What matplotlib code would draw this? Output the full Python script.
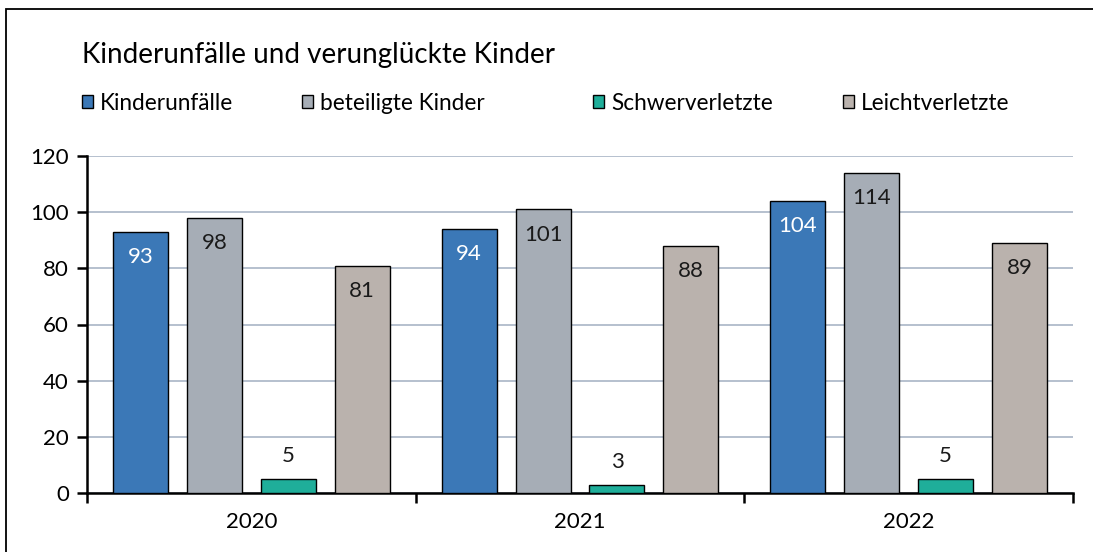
import matplotlib.pyplot as plt
import numpy as np
from matplotlib.patches import Rectangle

plt.rcParams['font.family'] = ['Lato', 'DejaVu Sans']

# data
years = ['2020', '2021', '2022']
series = ['Kinderunfälle', 'beteiligte Kinder', 'Schwerverletzte', 'Leichtverletzte']
kinderunfaelle = [93, 94, 104]
beteiligte = [98, 101, 114]
schwer = [5, 3, 5]
leicht = [81, 88, 89]
yticks = [0, 20, 40, 60, 80, 100, 120]

values = [kinderunfaelle, beteiligte, schwer, leicht]
colors = ['#3b78b7', '#a6adb6', '#1fae9a', '#bab2ad']
label_colors = ['white', '#1a1a1a', '#1a1a1a', '#1a1a1a']

fig = plt.figure(figsize=(10.93, 5.52), dpi=100)
# outer frame (right/bottom run off the image)
fig.patches.append(Rectangle((6 / 1093, -0.05), 1.1, 1 - 9 / 552 + 0.05,
                             transform=fig.transFigure, fill=False,
                             edgecolor='black', linewidth=1.3))

ax = fig.add_axes([87 / 1093, 1 - 493 / 552, (1073 - 87) / 1093, (493 - 156) / 552])

bw = 55 / 329
step = 74 / 329
x = np.arange(len(years))
handles = []
for i, (vals, c, lc) in enumerate(zip(values, colors, label_colors)):
    pos = x + (i - 1.5) * step
    bars = ax.bar(pos, vals, width=bw, color=c, edgecolor='black', linewidth=1.0,
                  label=series[i], zorder=3)
    handles.append(bars)
    for b, v in zip(bars, vals):
        if v > 20:
            ax.text(b.get_x() + b.get_width() / 2, v - 9, str(v), ha='center',
                    va='center', fontsize=16, color=lc, zorder=4)
        else:
            ax.text(b.get_x() + b.get_width() / 2, v + 8, str(v), ha='center',
                    va='center', fontsize=16, color=lc, zorder=4)

ax.set_xlim(-0.5, 2.5)
ax.set_ylim(0, 120)
ax.set_yticks(yticks)
ax.set_yticklabels([str(t) for t in yticks], fontsize=16)
ax.yaxis.grid(True, color='#a9b5c6', linewidth=1.2, zorder=0)
ax.set_axisbelow(True)

ax.set_xticks([-0.5, 0.5, 1.5, 2.5])
ax.set_xticklabels([])
ax.set_xticks(x, minor=True)
ax.set_xticklabels(years, minor=True, fontsize=16)
ax.tick_params(axis='x', which='minor', length=0, pad=14)
ax.tick_params(axis='x', which='major', length=7, width=1.8, direction='out')
ax.tick_params(axis='y', length=7, width=1.8, direction='out', pad=6)

for s in ['top', 'right']:
    ax.spines[s].set_visible(False)
ax.spines['left'].set_linewidth(1.8)
ax.spines['bottom'].set_linewidth(1.8)

fig.text(82 / 1093, 1 - 55 / 552, 'Kinderunfälle und verunglückte Kinder',
         fontsize=20, va='center', ha='left')

# one legend per entry so each sits where the reference has it
leg_x = [82, 302, 593, 843]
for h, name, lx in zip(handles, series, leg_x):
    fig.legend([h], [name], loc='center left', bbox_to_anchor=(lx / 1093, 1 - 103 / 552),
               frameon=False, fontsize=16.3, handlelength=0.5, handleheight=0.5,
               handletextpad=0.3, borderaxespad=0, borderpad=0)

fig.savefig('out.png', dpi=100)
